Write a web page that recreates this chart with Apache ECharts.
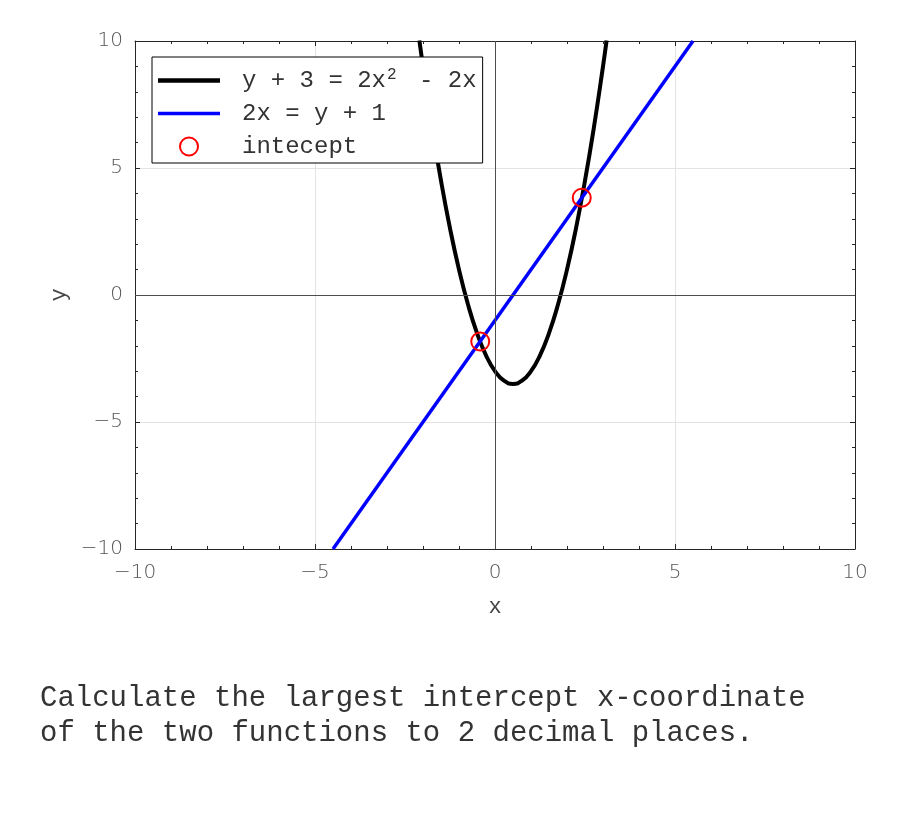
<!DOCTYPE html>
<html><head><meta charset="utf-8">
<script src="https://cdn.jsdelivr.net/npm/echarts@6/dist/echarts.min.js"></script>
<style>html,body{margin:0;padding:0;background:#fff}#c{width:900px;height:825px}</style>
</head><body><div id="c"></div>
<script>
// ---- data ----
const parabolaX = [-2.1, -2.0, -1.75, -1.5, -1.25, -1.0, -0.75, -0.5, -0.25, 0, 0.25, 0.5, 0.75, 1.0, 1.25, 1.5, 1.75, 2.0, 2.25, 2.5, 2.75, 3.0, 3.1];
const parabolaY = [10.02, 9, 6.625, 4.5, 2.625, 1, -0.375, -1.5, -2.375, -3, -3.375, -3.5, -3.375, -3, -2.375, -1.5, -0.375, 1, 2.625, 4.5, 6.625, 9, 10.02];
const lineX = [-4.5, 5.5];
const lineY = [-10, 10];
const interceptX = [-0.41, 2.41];
const interceptY = [-1.83, 3.83];
const axisMin = -10, axisMax = 10, axisStep = 5;
const seriesNames = ['y + 3 = 2x\u00b2 - 2x', '2x = y + 1', 'intecept'];
const xName = 'x', yName = 'y';
const questionLines = ['Calculate the largest intercept x-coordinate', 'of the two functions to 2 decimal places.'];

const zip = (xs, ys) => xs.map((x, i) => [x, ys[i]]);
const MONO = '"Liberation Mono", "Courier New", monospace';
const tickFmt = v => (v < 0 ? '\u2212' + (-v) : String(v));

const baseAxis = {
  type: 'value', min: axisMin, max: axisMax, interval: axisStep,
  axisLine: { show: true, onZero: false, lineStyle: { color: '#262626', width: 1 } },
  axisTick: { show: true, inside: true, length: 5, lineStyle: { color: '#262626' } },
  minorTick: { show: true, splitNumber: 5, length: 3, lineStyle: { color: '#262626' } },
  axisLabel: { show: true, formatter: tickFmt, fontFamily: '"DejaVu Sans", sans-serif', fontWeight: 200, fontSize: 20, color: '#555' },
  splitLine: { show: true, lineStyle: { color: '#e3e3e3', width: 1 } },
  minorSplitLine: { show: false },
  nameTextStyle: { fontFamily: MONO, fontSize: 22, color: '#444' }
};
const mirror = (pos) => Object.assign({}, baseAxis, {
  position: pos, axisLabel: { show: false }, splitLine: { show: false }, name: ''
});

const chart = echarts.init(document.getElementById('c'));
chart.setOption({
  animation: false,
  backgroundColor: '#fff',
  grid: { left: 135, right: 45, top: 41, bottom: 276, containLabel: false },
  xAxis: [
    Object.assign({}, baseAxis, { position: 'bottom', name: xName, nameLocation: 'middle', nameGap: 47,
      axisLabel: Object.assign({}, baseAxis.axisLabel, { margin: 14 }) }),
    mirror('top')
  ],
  yAxis: [
    Object.assign({}, baseAxis, { position: 'left', name: yName, nameLocation: 'middle', nameGap: 64,
      axisLabel: Object.assign({}, baseAxis.axisLabel, { margin: 12 }) }),
    mirror('right')
  ],
  legend: {
    orient: 'vertical', left: 152, top: 57,
    padding: [7, 6, 0, 6], itemGap: 0, itemWidth: 62, itemHeight: 18,
    backgroundColor: '#fff', borderColor: '#000', borderWidth: 1, borderRadius: 0,
    data: [
      { name: seriesNames[0], icon: 'path://M0 0H62V4.5H0Z', itemStyle: { color: '#000' } },
      { name: seriesNames[1], icon: 'path://M0 0H62V3.5H0Z', itemStyle: { color: '#0000ff' } },
      { name: seriesNames[2], icon: 'circle',
        itemStyle: { color: 'rgba(255,255,255,0)', borderColor: '#ff0000', borderWidth: 2, opacity: 1 } }
    ],
    formatter: function (name) {
      if (name === seriesNames[0]) return '{a|y + 3 = 2x}{s|2}{a| - 2x}';
      return '{a|' + name + '}';
    },
    textStyle: {
      fontFamily: MONO, fontSize: 24, color: '#333', lineHeight: 33, padding: [0, 0, 0, 17],
      rich: {
        a: { fontFamily: MONO, fontSize: 24, color: '#333', lineHeight: 33 },
        s: { fontFamily: MONO, fontSize: 16, color: '#333', lineHeight: 33, padding: [0, 8, 12, 1] }
      }
    }
  },
  graphic: [{
    type: 'text', left: 40, top: 681,
    style: { text: questionLines.join('\n'), font: '29px ' + MONO, fill: '#333', lineHeight: 35 }
  }],
  series: [
    {
      name: '_axes0', type: 'line', data: [], z: 1, silent: true,
      markLine: { silent: true, symbol: ['none', 'none'], label: { show: false },
        lineStyle: { color: '#4d4d4d', width: 1, type: 'solid' },
        data: [{ xAxis: 0 }, { yAxis: 0 }] }
    },
    {
      name: seriesNames[0], type: 'line', data: zip(parabolaX, parabolaY), smooth: true,
      symbol: 'none', showSymbol: false, clip: true, z: 3,
      lineStyle: { color: '#000', width: 4 }, itemStyle: { color: '#000' }
    },
    {
      name: seriesNames[1], type: 'line', data: zip(lineX, lineY),
      symbol: 'none', showSymbol: false, clip: true, z: 4,
      lineStyle: { color: '#0000ff', width: 3.5 }, itemStyle: { color: '#0000ff' }
    },
    {
      name: seriesNames[2], type: 'scatter', data: zip(interceptX, interceptY), z: 5,
      symbol: 'circle', symbolSize: 18,
      itemStyle: { color: 'rgba(255,255,255,0)', borderColor: '#ff0000', borderWidth: 2, opacity: 1 }
    }
  ]
});
</script></body></html>
